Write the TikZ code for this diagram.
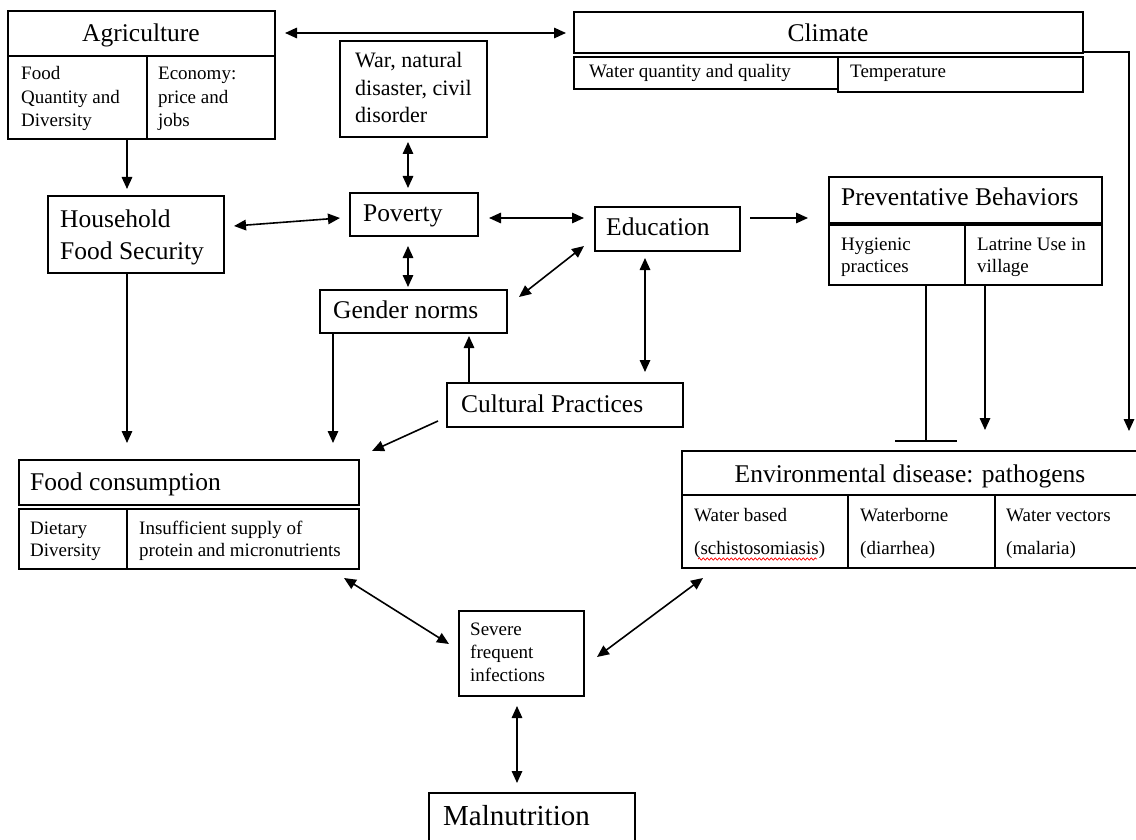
\documentclass[tikz,border=0pt]{standalone}
\usepackage{fontspec}
\setmainfont{Liberation Serif}
\usetikzlibrary{arrows.meta,fit,decorations.pathmorphing}
\newcommand\fT{\fontsize{25.5}{30}\selectfont}
\newcommand\fS{\fontsize{19}{23}\selectfont}
\newcommand\fW{\fontsize{22}{27}\selectfont}
\newcommand\fM{\fontsize{29}{34}\selectfont}
\tikzset{
  box/.style={draw, line width=1.6pt, inner sep=0pt, fit={#1}},
  tl/.style={anchor=base west, inner sep=0pt, font=\fT},
  tc/.style={anchor=base, inner sep=0pt, font=\fT},
  sl/.style={anchor=base west, inner sep=0pt, font=\fS},
  wl/.style={anchor=base west, inner sep=0pt, font=\fW},
  con/.style={line width=1.6pt},
  arr/.style={con, -{Triangle[length=12pt,width=10.5pt]}},
  darr/.style={con, {Triangle[length=12pt,width=10.5pt]}-{Triangle[length=12pt,width=10.5pt]}},
}
\begin{document}
\begin{tikzpicture}[x=1pt,y=-1pt]
\useasboundingbox (0,0) rectangle (1136,840);
% Agriculture
\node[box={(8,11)(275,56)}] (agri) {};
\node[box={(8,56)(147,139)}] (agrifood) {};
\node[box={(147,56)(275,139)}] (agriecon) {};
\node[tc] (agrit) at (141,42) {Agriculture};
\node[sl] (af1) at (21,80) {Food};
\node[sl] (af2) at (21,103.5) {Quantity and};
\node[sl] (af3) at (21,127) {Diversity};
\node[sl] (ae1) at (158,80) {Economy:};
\node[sl] (ae2) at (158,103.5) {price and};
\node[sl] (ae3) at (158,127) {jobs};
% War
\node[box={(340,41)(487,137)}] (war) {};
\node[wl] (w1) at (355,68) {War, natural};
\node[wl] (w2) at (355,95.5) {disaster, civil};
\node[wl] (w3) at (355,123) {disorder};
% Climate
\node[box={(574,12)(1083,53)}] (clim) {};
\node[box={(574,57)(838,89)}] (climw) {};
\node[box={(838,57)(1083,92)}] (climt) {};
\node[tc] (climtx) at (828,42) {Climate};
\node[sl] (cw) at (589,78) {Water quantity and quality};
\node[sl] (ct) at (850,78) {Temperature};
% Household
\node[box={(48,196)(224,273)}] (house) {};
\node[tl] (h1) at (60,227) {Household};
\node[tl] (h2) at (60,259) {Food Security};
% Poverty
\node[box={(350,193)(478,236)}] (pov) {};
\node[tl] (povt) at (363,222) {Poverty};
% Education
\node[box={(595,207)(740,251)}] (edu) {};
\node[tl] (edut) at (606,236) {Education};
% Gender norms
\node[box={(320,290)(507,333)}] (gen) {};
\node[tl] (gent) at (333,318) {Gender norms};
% Cultural practices
\node[box={(447,383)(683,427)}] (cult) {};
\node[tl] (cultt) at (461,412) {Cultural Practices};
% Preventative behaviors
\node[box={(829,177)(1102,223)}] (prev) {};
\node[box={(829,225)(965,285)}] (prevh) {};
\node[box={(965,225)(1102,285)}] (prevl) {};
\node[tl] (prevt) at (841,206) {Preventative Behaviors};
\node[sl] (ph1) at (841,250) {Hygienic};
\node[sl] (ph2) at (841,272) {practices};
\node[sl] (pl1) at (977,250) {Latrine Use in};
\node[sl] (pl2) at (977,272) {village};
% Food consumption
\node[box={(19,460)(359,505)}] (food) {};
\node[box={(19,509)(127,569)}] (foodd) {};
\node[box={(127,509)(359,569)}] (foodi) {};
\node[tl] (foodt) at (30,490) {Food consumption};
\node[sl] (fd1) at (30,534) {Dietary};
\node[sl] (fd2) at (30,556) {Diversity};
\node[sl] (fi1) at (139,534) {Insufficient supply of};
\node[sl] (fi2) at (139,556) {protein and micronutrients};
% Environmental disease
\node[box={(682,451)(1142,495)}] (env) {};
\node[box={(682,495)(848,568)}] (envb) {};
\node[box={(848,495)(995,568)}] (envw) {};
\node[box={(995,495)(1142,568)}] (envv) {};
\node[tc] (envt) at (910,482) {Environmental disease: pathogens};
\node[sl] (eb1) at (694,521) {Water based};
\node[sl] (eb2) at (694,554) {(schistosomiasis)};
\node[sl] (ew1) at (860,521) {Waterborne};
\node[sl] (ew2) at (860,554) {(diarrhea)};
\node[sl] (ev1) at (1006,521) {Water vectors};
\node[sl] (ev2) at (1006,554) {(malaria)};
\coordinate (sq1) at (698,559);
\coordinate (sq2) at (817,559);
\draw[red, line width=0.7pt, decorate, decoration={snake, amplitude=1.2pt, segment length=4pt}] (sq1) -- (sq2);
% Severe frequent infections
\node[box={(459,611)(584,696)}] (sev) {};
\node[sl] (s1) at (470,635) {Severe};
\node[sl] (s2) at (470,658) {frequent};
\node[sl] (s3) at (470,681) {infections};
% Malnutrition
\node[box={(429,793)(635,850)}] (mal) {};
\node[anchor=base west, inner sep=0pt, font=\fM] (malt) at (443,825) {Malnutrition};
% connector end points
\coordinate (a1) at (285,33);   \coordinate (a2) at (566,33);
\coordinate (b1) at (127,139);  \coordinate (b2) at (127,189);
\coordinate (c1) at (408,142);  \coordinate (c2) at (408,188);
\coordinate (d1) at (234,226);  \coordinate (d2) at (340,218);
\coordinate (e1) at (489,218);  \coordinate (e2) at (584,218);
\coordinate (f1) at (408,246);  \coordinate (f2) at (408,287);
\coordinate (g1) at (519,297);  \coordinate (g2) at (584,246);
\coordinate (h1a) at (750,218); \coordinate (h2a) at (808,218);
\coordinate (i1) at (645,258);  \coordinate (i2) at (645,372);
\coordinate (j1) at (469,383);  \coordinate (j2) at (469,336);
\coordinate (k1) at (127,273);  \coordinate (k2) at (127,443);
\coordinate (l1) at (333,333);  \coordinate (l2) at (333,443);
\coordinate (m1) at (438,421);  \coordinate (m2) at (372,451);
\coordinate (n1) at (926,285);  \coordinate (n2) at (926,441);
\coordinate (nb1) at (895,441); \coordinate (nb2) at (957,441);
\coordinate (o1) at (985,285);  \coordinate (o2) at (985,430);
\coordinate (p1) at (1083,52);  \coordinate (p2) at (1129,52); \coordinate (p3) at (1129,431);
\coordinate (q1) at (344,578);  \coordinate (q2) at (449,644);
\coordinate (r1) at (597,657);  \coordinate (r2) at (703,578);
\coordinate (t1) at (517,706);  \coordinate (t2) at (517,783);
% connectors
\draw[darr] (a1) -- (a2);
\draw[arr] (b1) -- (b2);
\draw[darr] (c1) -- (c2);
\draw[darr] (d1) -- (d2);
\draw[darr] (e1) -- (e2);
\draw[darr] (f1) -- (f2);
\draw[darr] (g1) -- (g2);
\draw[arr] (h1a) -- (h2a);
\draw[darr] (i1) -- (i2);
\draw[arr] (j1) -- (j2);
\draw[arr] (k1) -- (k2);
\draw[arr] (l1) -- (l2);
\draw[arr] (m1) -- (m2);
\draw[con] (n1) -- (n2);
\draw[con] (nb1) -- (nb2);
\draw[arr] (o1) -- (o2);
\draw[arr] (p1) -- (p2) -- (p3);
\draw[darr] (q1) -- (q2);
\draw[darr] (r1) -- (r2);
\draw[darr] (t1) -- (t2);
\end{tikzpicture}
\end{document}
